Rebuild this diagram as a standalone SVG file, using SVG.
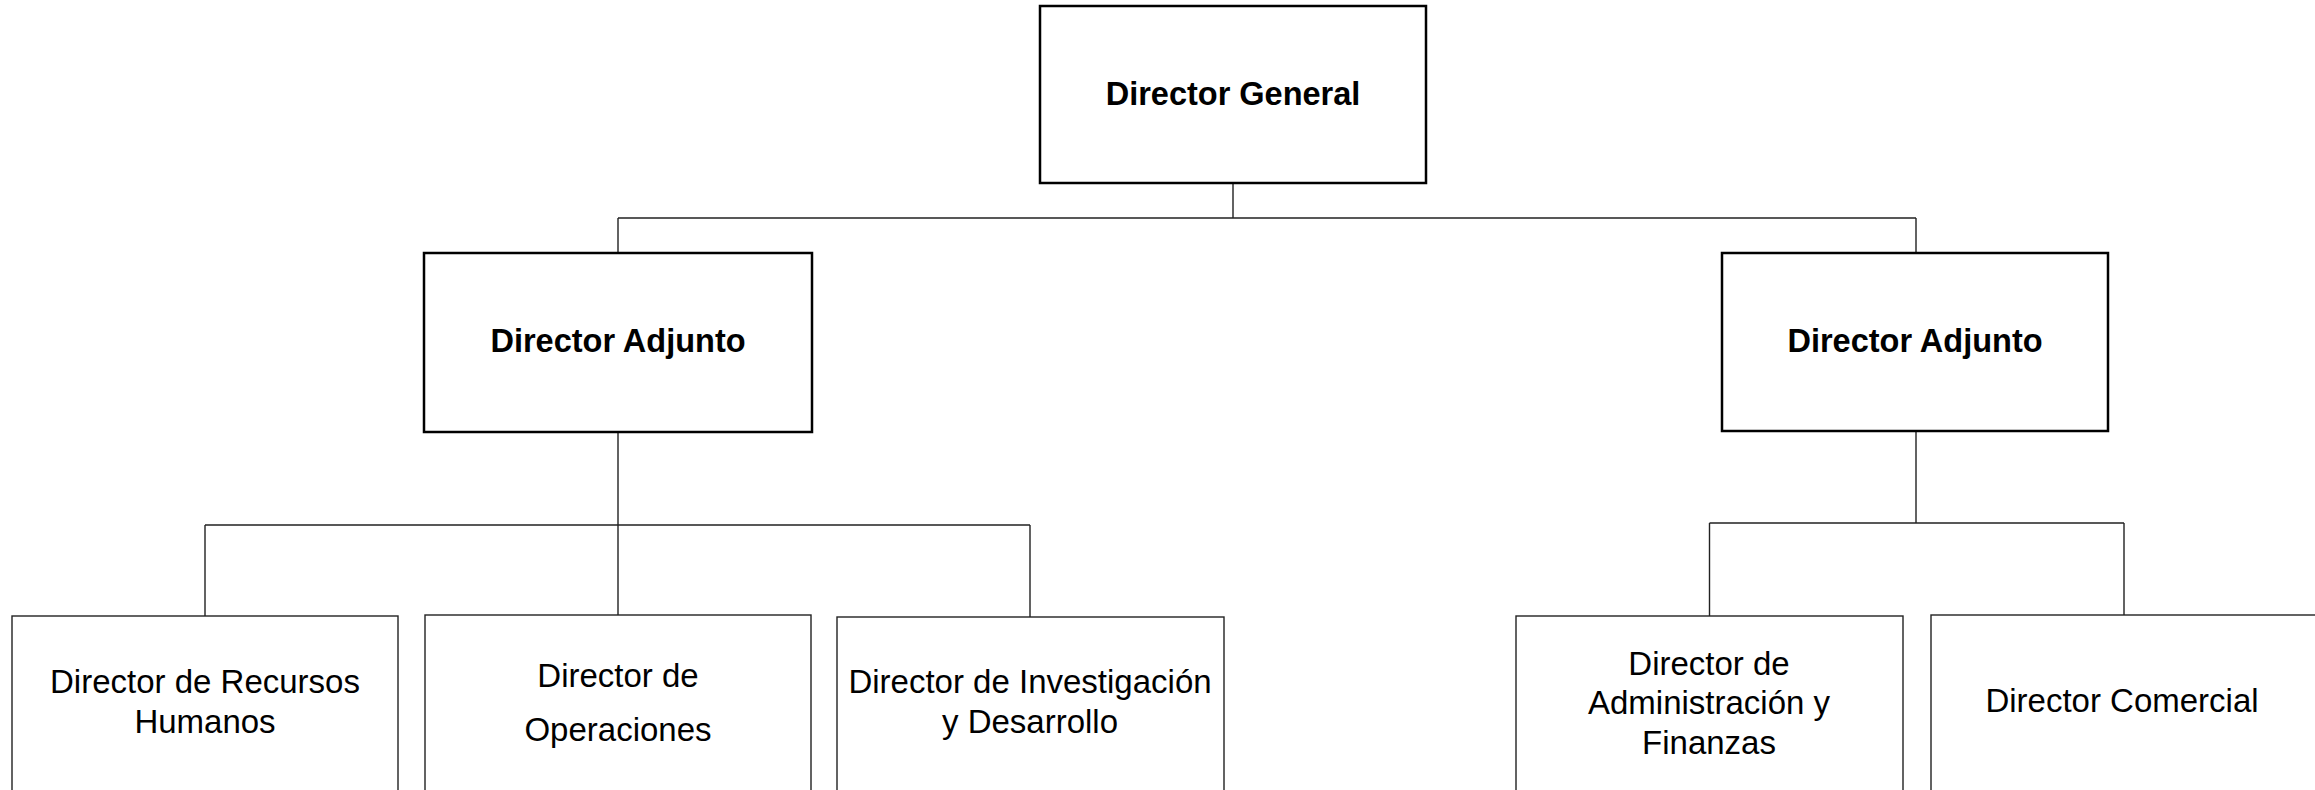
<svg xmlns="http://www.w3.org/2000/svg" width="2315" height="790" viewBox="0 0 2315 790">
  <style>
    .main { fill: #ffffff; stroke: #000000; stroke-width: 2.5; }
    .sub { fill: #ffffff; stroke: #222222; stroke-width: 1.4; }
    .conn { fill: none; stroke: #222222; stroke-width: 1.4; }
    .tb { font-family: "Liberation Sans", Arial, sans-serif; font-weight: bold; font-size: 32.5px; fill: #000000; text-anchor: middle; }
    .tr { font-family: "Liberation Sans", Arial, sans-serif; font-size: 33px; fill: #000000; text-anchor: middle; }
  </style>
  <rect width="2315" height="790" fill="#ffffff"/>
  <g id="connectors">
    <path class="conn" d="M1233 183 V218 M618 218 H1916 M618 218 V253 M1916 218 V253"/>
    <path class="conn" d="M618 432 V525 M205 525 H1030 M205 525 V616 M618 525 V615 M1030 525 V617"/>
    <path class="conn" d="M1916 431 V523 M1709.5 523 H2124 M1709.5 523 V616 M2124 523 V615"/>
  </g>
  <g id="director-general">
    <rect class="main" x="1040" y="6" width="386" height="177"/>
    <text class="tb" x="1233" y="105">Director General</text>
  </g>
  <g id="director-adjunto-1">
    <rect class="main" x="424" y="253" width="388" height="179"/>
    <text class="tb" x="618" y="352">Director Adjunto</text>
  </g>
  <g id="director-adjunto-2">
    <rect class="main" x="1722" y="253" width="386" height="178"/>
    <text class="tb" x="1915" y="352">Director Adjunto</text>
  </g>
  <g id="director-rrhh">
    <rect class="sub" x="12" y="616" width="386" height="190"/>
    <text class="tr" x="205" y="693">Director de Recursos</text>
    <text class="tr" x="205" y="733">Humanos</text>
  </g>
  <g id="director-operaciones">
    <rect class="sub" x="425" y="615" width="386" height="190"/>
    <text class="tr" x="618" y="687">Director de</text>
    <text class="tr" x="618" y="741">Operaciones</text>
  </g>
  <g id="director-id">
    <rect class="sub" x="837" y="617" width="387" height="190"/>
    <text class="tr" x="1030" y="693">Director de Investigación</text>
    <text class="tr" x="1030" y="733">y Desarrollo</text>
  </g>
  <g id="director-admin">
    <rect class="sub" x="1516" y="616" width="387" height="190"/>
    <text class="tr" x="1709" y="675">Director de</text>
    <text class="tr" x="1709" y="714">Administración y</text>
    <text class="tr" x="1709" y="754">Finanzas</text>
  </g>
  <g id="director-comercial">
    <rect class="sub" x="1931" y="615" width="400" height="190"/>
    <text class="tr" x="2122" y="712">Director Comercial</text>
  </g>
</svg>
